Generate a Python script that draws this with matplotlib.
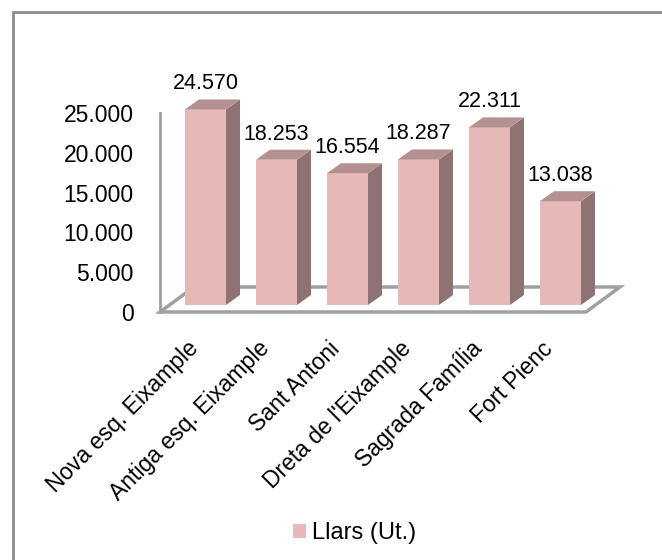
import matplotlib.pyplot as plt
from matplotlib.patches import Polygon, Rectangle, Patch
from matplotlib.transforms import ScaledTranslation

plt.rcParams['font.family'] = ['Liberation Sans', 'DejaVu Sans']

categories = ['Nova esq. Eixample', 'Antiga esq. Eixample', 'Sant Antoni',
              "Dreta de l'Eixample", 'Sagrada Família', 'Fort Pienc']
llars = [24570, 18253, 16554, 18287, 22311, 13038]
y_ticks = [0, 5000, 10000, 15000, 20000, 25000]
series_name = 'Llars (Ut.)'

front_col = '#E6B9B8'
side_col = '#8E7372'
top_col = '#B49190'
grid_col = '#A0A0A0'


def fmt(v):
    return f'{v:,}'.replace(',', '.')


W, H = 662, 560
fig = plt.figure(figsize=(W / 100, H / 100), dpi=100)

# plot area in pixels (from top-left)
ax_l, ax_r, ax_b, ax_t = 160, 586, 312, 113
ax = fig.add_axes([ax_l / W, 1 - ax_b / H, (ax_r - ax_l) / W, (ax_b - ax_t) / H])
n = len(categories)
ax.set_xlim(-0.5, n - 0.5)
ax.set_ylim(0, 25000)
px_x = n / (ax_r - ax_l)
px_y = 25000 / (ax_b - ax_t)

# fake 3d floor
fdx, fdy = 34 * px_x, 25 * px_y
floor = Polygon([(-0.5, 0), (n - 0.5, 0), (n - 0.5 + fdx, fdy), (-0.5 + fdx, fdy)],
                closed=True, facecolor='white', edgecolor=grid_col, lw=2.5,
                clip_on=False, zorder=1)
ax.add_patch(floor)

# bars: front face offset into the floor, then depth
sx, sy = 10 * px_x, 7 * px_y
dx, dy = 14 * px_x, 10 * px_y
w = 41 * px_x
xs = list(range(n))
ax.bar([x + sx for x in xs], llars, width=w, bottom=sy, color=front_col,
       clip_on=False, zorder=3)
for x, v in zip(xs, llars):
    r = x + sx + w / 2
    l = x + sx - w / 2
    top = sy + v
    ax.add_patch(Polygon([(r, sy), (r, top), (r + dx, top + dy), (r + dx, sy + dy)],
                         closed=True, facecolor=side_col, edgecolor='none',
                         clip_on=False, zorder=3))
    ax.add_patch(Polygon([(l, top), (r, top), (r + dx, top + dy), (l + dx, top + dy)],
                         closed=True, facecolor=top_col, edgecolor='none',
                         clip_on=False, zorder=3))
    ax.text(x + sx, top + dy + 5 * px_y, fmt(v), ha='center', va='bottom',
            fontsize=15.5, zorder=4)

ax.set_yticks(y_ticks)
ax.set_yticklabels([fmt(t) for t in y_ticks], fontsize=16.5)
ax.set_xticks(xs)
ax.set_xticklabels(categories, rotation=45, ha='right', rotation_mode='anchor',
                   fontsize=16.5)
ax.tick_params(axis='y', length=0, pad=19)
ax.tick_params(axis='x', length=0, pad=18)
shift = ScaledTranslation(-9 / 100, 0, fig.dpi_scale_trans)
for lbl in ax.get_xticklabels():
    lbl.set_transform(lbl.get_transform() + shift)
for s in ['top', 'right', 'bottom']:
    ax.spines[s].set_visible(False)
ax.spines['left'].set_color(grid_col)
ax.spines['left'].set_linewidth(2)
ax.patch.set_visible(False)

fig.legend(handles=[Patch(facecolor=front_col, edgecolor='none', label=series_name)],
           loc='center', bbox_to_anchor=(355 / W, 1 - 533 / H), frameon=False,
           fontsize=17, handlelength=0.55, handleheight=0.55, handletextpad=0.25)

# outer border (cut off at right and bottom in the original)
fig.patches.append(Rectangle((13 / W, -0.1), 1.2, 1.1 - 12 / H, transform=fig.transFigure,
                             fill=False, edgecolor='#8C8C8C', lw=2))

fig.savefig('out.png', dpi=100)
